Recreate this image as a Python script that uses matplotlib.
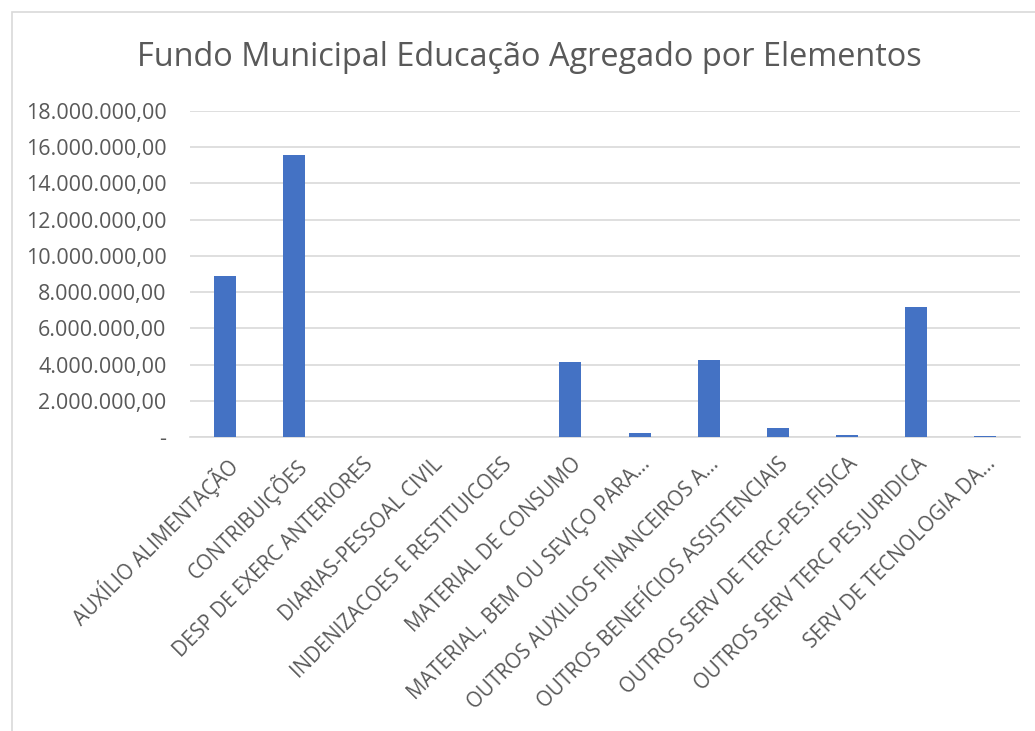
import matplotlib
matplotlib.use("Agg")
import matplotlib.pyplot as plt
from matplotlib.ticker import FuncFormatter, MultipleLocator
from matplotlib.patches import Rectangle

categories = [
    "AUXÍLIO ALIMENTAÇÃO",
    "CONTRIBUIÇÕES",
    "DESP DE EXERC ANTERIORES",
    "DIARIAS-PESSOAL CIVIL",
    "INDENIZACOES E RESTITUICOES",
    "MATERIAL DE CONSUMO",
    "MATERIAL, BEM OU SEVIÇO PARA...",
    "OUTROS AUXILIOS FINANCEIROS A...",
    "OUTROS BENEFÍCIOS ASSISTENCIAIS",
    "OUTROS SERV DE TERC-PES.FISICA",
    "OUTROS SERV TERC PES.JURIDICA",
    "SERV DE TECNOLOGIA DA...",
]
values = [8890000, 15580000, 0, 0, 0, 4140000, 240000, 4250000, 510000, 130000, 7180000, 70000]

title = "Fundo Municipal Educação Agregado por Elementos"

plt.rcParams['font.family'] = ['Open Sans', 'DejaVu Sans']

fig = plt.figure(figsize=(10.35, 7.31), dpi=100)
fig.patch.set_facecolor("white")
fig.patches.append(Rectangle((12/1035, -0.1), 1.1, 1 - 12/731 + 0.1, transform=fig.transFigure,
                             fill=False, edgecolor="#d9d9d9", linewidth=1.2))

ax = fig.add_axes([190/1035, 1 - 437/731, (1020 - 190)/1035, (437 - 111)/731])
x = list(range(len(categories)))
ax.bar(x, values, width=0.32, color="#4472c4", zorder=3)
ax.set_xlim(-0.5, len(categories) - 0.5)
ax.set_ylim(0, 18000000)
ax.yaxis.set_major_locator(MultipleLocator(2000000))

def fmt(v, pos):
    if v == 0:
        return "-"
    s = f"{v:,.2f}"
    return s.replace(",", "X").replace(".", ",").replace("X", ".")

ax.yaxis.set_major_formatter(FuncFormatter(fmt))
ax.grid(axis="y", color="#d9d9d9", linewidth=1.2, zorder=0)
for s in ["top", "right", "left"]:
    ax.spines[s].set_visible(False)
ax.spines["bottom"].set_color("#d9d9d9")
ax.spines["bottom"].set_linewidth(1.2)
ax.tick_params(axis="both", length=0, colors="#595959")
ax.tick_params(axis="y", pad=17, labelsize=15.5)
ax.set_xticks(x)
ax.set_xticklabels(categories, rotation=45, ha="right", rotation_mode="anchor", fontsize=14.8, color="#595959")
ax.tick_params(axis="x", pad=12)

fig.text(0.5116, 1 - 58/731, title, ha="center", va="center", fontsize=23.4, color="#595959")

fig.savefig("out.png", dpi=100)
